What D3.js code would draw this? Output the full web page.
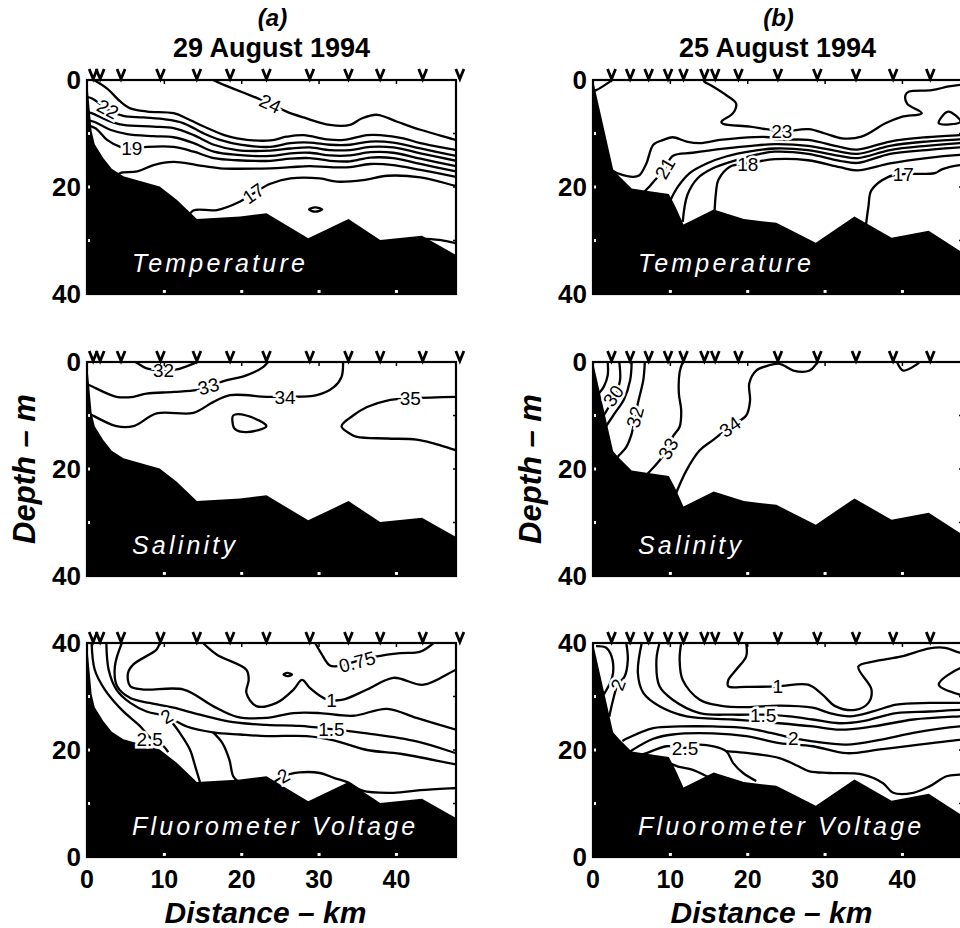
<!DOCTYPE html>
<html>
<head>
<meta charset="utf-8">
<script src="https://cdn.jsdelivr.net/npm/d3@7"></script>
<style>
  body { margin: 0; background: #fff; }
  svg { display: block; font-family: "Liberation Sans", Arial, Helvetica, sans-serif; }
</style>
</head>
<body>
<svg id="chart" width="960" height="928"></svg>
<script>
// ---- data: [distance km, depth m] ----
var bottomA = [[0,0],[0.25,4],[0.6,9.6],[1.0,12],[2.1,14.6],[3.2,16.6],[4.7,18.0],[9.4,19.9],[11.6,22.4],[14.2,26.0],[19.8,25.5],[23.2,24.9],[28.6,29.6],[33.8,26.0],[37.9,29.9],[43.3,29.1],[47.7,32.7],[49,33.6]];
var bottomB = [[0,0],[2.6,16.7],[3.4,18.0],[5.0,20.3],[6.9,20.7],[9.8,21.3],[10.6,23.5],[11.7,27.0],[15.6,24.2],[19.5,26.0],[23.7,26.7],[28.8,30.4],[33.8,25.5],[38.6,29.5],[43.4,28.2],[47.4,31.9],[49,33]];

var stationsA = [0.8, 1.7, 4.4, 9.5, 14.2, 18.5, 23.2, 28.8, 33.8, 37.9, 43.4, 48.2];
var stationsB = [2.4, 4.8, 7.2, 9.7, 11.7, 14.4, 15.8, 18.8, 23.9, 29.0, 34.0, 38.8, 43.6, 48.5];

// temperature, 29 August
var tempA = [
  {v:24, pts:[[16.3,0],[17.5,0.8],[18.9,1.6],[21.5,3.1],[23.7,4.4],[25.8,5.9],[28,7.0],[31.4,8.4],[34,8.4],[35.5,7.2],[37.5,6.5],[40.1,7.8],[43.1,9.3],[47.7,11.2],[49,11.8]]},
  {v:23, pts:[[0.9,0],[2.6,1.6],[4.3,4.0],[5.6,5.3],[7.8,5.9],[11.2,6.2],[12.9,7.2],[15.1,8.7],[17.2,10.0],[19.4,10.9],[23.7,11.3],[25.8,10.6],[28,10.3],[31,11.1],[33.2,11.2],[36.2,10.3],[37.9,10.3],[40.9,10.9],[43.1,11.8],[47.7,13.1],[49,13.5]]},
  {v:22, pts:[[0,3.2],[0.6,3.4],[2.8,5.6],[4.7,6.7],[7.3,7.0],[10.3,7.4],[12.5,8.1],[15.1,10.0],[17.2,11.2],[19.8,12.1],[23.7,12.5],[26.3,11.8],[28.8,11.7],[31.4,12.1],[34,12.1],[36.6,11.5],[39.6,11.7],[43.1,12.8],[47.7,14.2],[49,14.6]]},
  {v:21, pts:[[0,6],[0.6,6.2],[2.6,7.5],[4.7,8.4],[8.6,8.7],[11.2,9.0],[13.8,10.3],[16.4,12.1],[19.4,13.1],[23.7,13.2],[26.3,12.8],[28.8,12.6],[31.4,13.1],[34,13.1],[36.6,12.5],[39.6,12.6],[43.1,13.7],[47.7,15.1],[49,15.5]]},
  {v:20, pts:[[0,7.5],[0.9,7.8],[3.0,9.3],[5.2,10.1],[8.6,10.5],[11.2,10.7],[13.8,11.8],[16.4,13.4],[19.4,14.0],[23.7,14.2],[26.3,13.7],[28.8,13.6],[31.4,14.1],[34,14.1],[36.6,13.5],[39.6,13.6],[43.1,14.7],[47.7,16.1],[49,16.5]]},
  {v:19, pts:[[0,8.5],[1.1,9.0],[2.6,11.2],[4.3,12.5],[5.8,12.8],[7.8,12.5],[11.2,12.5],[13.8,13.4],[16.4,14.6],[19.4,15.0],[23.7,15.1],[26.3,14.7],[28.8,14.6],[31.4,15.1],[34,15.2],[36.6,14.5],[39.6,14.6],[43.1,15.7],[47.7,17.1],[49,17.5]]},
  {v:18, pts:[[3.5,18.2],[4.3,17.4],[6.5,17.1],[8.6,15.9],[11.2,15.3],[14.2,15.9],[17.2,16.5],[23.7,16.5],[26.3,16.3],[28.8,16.1],[31.4,16.3],[34,16.3],[36.6,15.7],[39.6,15.9],[43.1,16.8],[47.7,18.1],[49,18.5]]},
  {v:17, pts:[[13.0,25.8],[13.75,24.4],[16.8,24.3],[19.8,22.7],[21.5,21.2],[23.7,19.4],[26.3,18.4],[30.1,18.4],[32.3,19.0],[35.7,18.7],[38.8,17.9],[43.1,18.2],[47.7,19.8],[49,20.2]]},
  {v:17, closed:true, pts:[[28.7,24.2],[29.5,23.8],[30.4,24.2],[29.5,24.6]]},
  {v:16, pts:[[43.0,29.6],[45.5,29.9],[47.7,30.5],[49,30.8]]}
];
var labelsTempA = [["24",23.7,4.4,25],["22",2.7,5.4,28],["19",5.8,12.8,0],["17",21.5,21.2,-35]];

// salinity, 29 August
var salA = [
  {v:32, pts:[[6.3,0],[6.6,0.3],[7.7,1.2],[9.9,1.6],[11.6,1.4],[13.75,0.3],[14.2,0]]},
  {v:33, pts:[[0,4.2],[0.4,4.4],[3.8,6.5],[6.0,6.5],[7.7,5.9],[11.2,5.6],[14.2,5.2],[15.7,4.5],[18.1,3.4],[20.6,2.5],[22.8,0.9],[23.4,0]]},
  {v:34, pts:[[0,9.5],[0.2,9.6],[3.8,12.0],[6.0,12.0],[9.0,9.6],[13.75,9.5],[16.3,7.5],[18.5,6.2],[23.2,6.5],[25.6,6.5],[29.7,6.2],[31.9,4.7],[32.9,2.8],[33.1,0]]},
  {v:34, closed:true, pts:[[18.9,10.0],[20.6,10.0],[23.2,12.0],[20.6,13.1],[19.1,12.5],[18.8,11.1]]},
  {v:35, pts:[[49,6.5],[47.7,6.5],[41.8,6.8],[38.8,7.2],[36.2,8.4],[34.4,10.0],[32.9,12.0],[34.0,13.4],[34.9,14.0],[38.8,14.3],[42.6,14.5],[44.8,15.2],[47.7,16.5],[49,17]]}
];
var labelsSalA = [["32",9.9,1.6,0],["33",15.7,4.5,-15],["34",25.6,6.5,0],["35",41.8,6.8,0]];

// fluorometer voltage, 29 August
var fluA = [
  {v:0.75, pts:[[29.5,0],[30.3,2.0],[31.4,4.2],[32.5,4.3],[34.9,3.4],[37.5,2.5],[40.5,1.9],[43.1,1.6],[44.8,0]]},
  {v:1, pts:[[15.0,0],[16.8,2.2],[20.6,5.0],[20.9,6.9],[20.6,9.3],[21.9,11.8],[24.5,11.2],[26.7,8.7],[27.8,6.9],[28.8,8.4],[30.6,10.3],[31.6,10.7],[33.1,10.6],[36.2,8.7],[39.6,6.5],[43.5,7.8],[47.7,5.0],[49,4.4]]},
  {v:1, closed:true, pts:[[25.4,5.9],[25.9,5.6],[26.5,5.9],[25.9,6.2]]},
  {v:1.25, pts:[[9.4,0],[9.0,1.2],[6.0,4.0],[5.3,5.6],[5.6,8.1],[7.3,8.7],[12.5,8.7],[16.3,11.8],[19.4,13.8],[23.2,14.0],[26.7,13.1],[30.1,13.1],[34.4,13.6],[38.8,12.3],[42.6,14.0],[47.7,16.2],[49,16.8]]},
  {v:1.5, pts:[[4.5,0],[3.6,4.4],[3.9,8.1],[5.6,10.3],[8.1,11.2],[11.2,12.1],[14.6,13.4],[18.9,14.8],[23.2,15.3],[27.5,15.5],[31.6,16.1],[36.2,16.9],[42.6,18.4],[47.7,20.6],[49,21.2]]},
  {v:2, pts:[[2.5,0],[2.8,5.0],[3.8,8.7],[5.6,11.2],[7.7,12.8],[10.3,13.7],[12.9,15.6],[16.3,16.7],[19.8,17.1],[23.2,17.4],[28.4,17.4],[31.9,18.2],[36.2,20.0],[40.5,20.7],[47.7,22.7],[49,23]]},
  {v:2, pts:[[10.7,14.3],[12.0,16.8],[13.3,19.9],[14.0,23.1],[14.6,26]]},
  {v:2, pts:[[16.3,16.7],[17.5,18.7],[18.4,21.8],[18.9,24.9],[19.6,26]]},
  {v:2.5, pts:[[0.6,0],[1.0,5.0],[2.3,8.7],[4.5,12.5],[6.9,15.6],[8.1,17.6],[9.9,19.3],[10.5,20.4]]},
  {v:2, pts:[[24.0,26.2],[25.4,24.9],[27.5,24.2],[30.1,24.3],[31.9,25.2],[33.8,26.1],[35.6,27.6],[39.6,28.0],[43.1,27.5],[47.7,27.1],[49,27]]}
];
var labelsFluA = [["0.75",34.9,3.5,-15],["1",31.6,10.7,0],["1.5",31.6,16.1,0],["2",10.3,13.7,-30],["2.5",8.1,17.9,0],["2",25.4,24.8,-30]];

// temperature, 25 August
var tempB = [
  {v:24, pts:[[0,2.0],[0.4,1.9],[2.2,0.3],[2.5,0]]},
  {v:23, pts:[[14.3,0],[14.4,0.3],[15.5,1.2],[17.2,2.8],[18.5,4.4],[18.1,6.2],[16.6,7.8],[16.8,8.2],[20.3,8.7],[22.4,9.2],[24.4,9.6],[27.9,9.2],[30,10.0],[32.2,10.9],[34.7,10.6],[37.8,8.1],[39.9,6.9],[42.5,6.2],[40.6,4.4],[40.4,2.8],[40.8,2.2],[43.8,1.9],[46,1.2],[47.5,0.9],[49,0.8]]},
  {v:23, closed:true, pts:[[44.7,8.1],[45.9,5.9],[47.5,7.8]]},
  {v:22, pts:[[2.6,17.0],[3.5,17.6],[5.2,18.1],[6.0,17.8],[6.9,15.6],[7.8,12.1],[9.1,11.2],[10.3,10.7],[12.1,11.5],[13.8,11.8],[16.4,11.2],[18.5,10.9],[22.8,10.7],[23.5,11.1],[27.8,11.2],[31.9,12.5],[34.2,13.0],[38.4,11.5],[43.1,10.7],[47.4,10.3],[49,10.2]]},
  {v:21, pts:[[6.2,21.5],[7.3,19.9],[8.2,18.4],[9.3,16.5],[10.3,14.2],[12.9,13.6],[17.2,12.8],[20.5,12.3],[23.5,12.0],[27.8,12.3],[31.9,13.4],[34.2,13.8],[38.4,12.3],[43.1,11.5],[47.4,11.1],[49,11]]},
  {v:20, pts:[[10.0,22.5],[11.0,19.9],[12.5,17.4],[14.7,15.6],[17.2,14.3],[20.5,13.3],[23.5,12.8],[27.8,13.1],[31.9,14.2],[34.2,14.6],[38.4,13.1],[43.1,12.3],[47.4,11.8],[49,11.7]]},
  {v:19, pts:[[11.6,26.5],[12.2,21.5],[13.5,18.4],[15.5,16.5],[18.0,15.2],[21,14.0],[23.5,13.4],[27.8,13.8],[31.9,15.1],[34.2,15.5],[38.4,13.8],[43.1,13.1],[47.4,12.6],[49,12.5]]},
  {v:18, pts:[[15.7,25],[15.9,21.0],[16.2,18.7],[17.7,16.2],[20.0,15.6],[23.5,14.8],[27.8,15.0],[31.9,16.3],[34.2,16.9],[38.4,15.6],[43.1,14.6],[47.4,14.0],[49,13.9]]},
  {v:17, pts:[[35.3,27],[35.6,23.7],[36.0,20.6],[38.2,18.1],[40.1,17.6],[44.2,17.4],[45.1,16.7],[47.5,15.9],[49,15.8]]}
];
var labelsTempB = [["23",24.4,9.6,0],["21",9.3,16.5,-60],["18",20.0,15.8,0],["17",40.1,17.6,0]];

// salinity, 25 August
var salB = [
  {v:29, pts:[[1.9,0],[1.9,2.5],[1.4,4.6],[0.8,5.8]]},
  {v:30, pts:[[3.4,0],[3.5,3.4],[3.0,5.9],[2.0,8.5],[1.3,10.2]]},
  {v:31, pts:[[5.0,0],[4.8,3.4],[4.0,7.0],[2.8,9.6],[1.7,12.0]]},
  {v:32, pts:[[6.7,0],[6.5,3.4],[5.9,7.1],[5.4,10.3],[5.0,13.4],[4.3,15.9],[3.4,17.4],[2.9,18.2]]},
  {v:33, pts:[[11.6,0],[11.2,1.9],[11.1,5.9],[11.4,9.0],[11.2,12.1],[10.3,14.0],[9.7,16.2],[8.6,18.4],[7.3,20.5],[6.8,21.2]]},
  {v:34, pts:[[10.6,25],[12.1,20.2],[13.8,16.5],[15.5,14.6],[17.7,12.1],[19.8,10.0],[20.3,7.2],[20.2,4.0],[21.1,1.6],[22.8,0.6],[23.9,0.3],[24.6,0.6],[25.9,1.6],[28,1.6],[28.9,0.3],[29.1,0]]},
  {v:35, pts:[[39.3,0],[40.1,1.6],[41.8,0.5],[42.2,0]]}
];
var labelsSalB = [["30",2.6,6.3,-55],["32",5.4,10.3,-75],["33",9.7,16.2,-60],["34",17.7,12.1,-35]];

// fluorometer voltage, 25 August
var fluB = [
  {v:2.25, pts:[[0.4,0.6],[1.7,0.9],[2.4,2.5],[2.6,5.6],[2.2,7.5],[1.4,9.6]]},
  {v:2, pts:[[4.3,0],[4.5,3.1],[4.1,6.2],[3.2,7.8],[2.6,10.6],[2.1,13.8]]},
  {v:1, pts:[[19.8,0],[19.8,2.5],[18.5,5.0],[17.5,6.9],[17.5,8.1],[19.8,8.2],[23.9,8.1],[27.8,7.8],[29.7,9.7],[31.3,11.8],[33.9,12.5],[35.6,11.2],[36.0,8.7],[34.3,4.4],[36.5,3.4],[39.9,2.5],[43.5,1.0],[45.5,0.9],[47.4,1.8],[49,2]]},
  {v:1, pts:[[49,4.5],[47.5,4.7],[44.7,7.8],[47.5,9.7],[49,10]]},
  {v:1.25, pts:[[11.4,0],[11.2,3.1],[11.6,6.9],[13.8,10.6],[16.4,11.7],[19.8,12.0],[24.1,11.7],[28.4,12.1],[30.6,13.1],[33.2,13.7],[36.2,12.8],[39.2,11.5],[43.5,11.2],[47.4,11.2],[49,11.2]]},
  {v:1.5, pts:[[8.6,0],[8.2,3.1],[8.6,8.1],[10.3,10.6],[13.8,13.1],[18,13.4],[22,13.4],[25.4,13.7],[28.4,14.3],[31.9,15.0],[34.9,14.6],[39.2,13.1],[43.5,12.8],[47.4,12.5],[49,12.5]]},
  {v:1.75, pts:[[6.3,0],[5.8,5.6],[6.5,9.3],[8.6,11.8],[12.1,13.7],[18.1,14.3],[24.1,15.0],[28.4,15.6],[31.9,16.2],[36.2,15.6],[41.4,14.3],[47.4,13.7],[49,13.6]]},
  {v:2, pts:[[3.8,18.3],[4.3,17.9],[7.8,15.9],[11.2,15.6],[15.5,15.6],[19.8,15.9],[23,16.8],[25.9,17.8],[28.4,18.4],[32.8,19.0],[37.1,18.1],[41.4,16.8],[47.4,15.6],[49,15.5]]},
  {v:2.25, pts:[[4.8,20.3],[5.2,19.9],[7.8,17.9],[10.3,17.1],[15.5,16.9],[19.8,17.4],[24.1,18.7],[28.4,19.3],[32.8,20.6],[37.1,19.9],[47.4,18.1],[49,18]]},
  {v:2.5, pts:[[6.0,21],[6.9,20.6],[9.5,19.3],[11.9,19.6],[13.8,19.0],[17.2,20.2],[18.1,22.4],[19.4,24.3],[21.1,25.8]]},
  {v:2.25, pts:[[17.2,20.2],[19.5,20.5],[24.1,21.5],[26.5,23.0],[28.0,24.0],[30.6,24.3],[34.9,24.6],[37.5,26.2],[38.8,28.0],[41.4,28.0],[43.5,26.8],[45.7,24.9],[47.4,24.6],[49,24.5]]},
  {v:2.5, pts:[[10.1,22.6],[11.0,23.1],[12.9,23.7],[14.7,24.9],[15.2,25.2]]}
];
var labelsFluB = [["2",3.2,7.8,-70],["1",23.9,8.1,0],["1.5",22,13.4,0],["2",25.9,17.8,0],["2.5",11.9,19.6,0]];

var depthTicks = [0, 10, 20, 30, 40];
var depthLabels = [0, 20, 40];
var kmTicks = [10, 20, 30, 40];
var kmLabels = [0, 10, 20, 30, 40];

// ---- layout ----
var KM_MAX = 47.7;
var colX = [[87, 456], [593, 962]];
var rowY = [[80, 294], [362, 576], [643, 857]];
var colTitles = [["(a)", "29 August 1994"], ["(b)", "25 August 1994"]];

var panels = [
  {col:0, row:0, lines:tempA, labels:labelsTempA, bottom:bottomA, stations:stationsA, name:"Temperature"},
  {col:0, row:1, lines:salA,  labels:labelsSalA,  bottom:bottomA, stations:stationsA, name:"Salinity"},
  {col:0, row:2, lines:fluA,  labels:labelsFluA,  bottom:bottomA, stations:stationsA, name:"Fluorometer Voltage"},
  {col:1, row:0, lines:tempB, labels:labelsTempB, bottom:bottomB, stations:stationsB, name:"Temperature"},
  {col:1, row:1, lines:salB,  labels:labelsSalB,  bottom:bottomB, stations:stationsB, name:"Salinity"},
  {col:1, row:2, lines:fluB,  labels:labelsFluB,  bottom:bottomB, stations:stationsB, name:"Fluorometer Voltage"}
];

var svg = d3.select("#chart");

panels.forEach(function(p, i) {
  var x = d3.scaleLinear().domain([0, KM_MAX]).range(colX[p.col]);
  var y = d3.scaleLinear().domain([0, 40]).range(rowY[p.row]);
  var x0 = colX[p.col][0], x1 = colX[p.col][1], y0 = rowY[p.row][0], y1 = rowY[p.row][1];

  svg.append("clipPath").attr("id", "clip" + i)
    .append("rect").attr("x", x0).attr("y", y0).attr("width", x1 - x0).attr("height", y1 - y0);

  var g = svg.append("g").attr("clip-path", "url(#clip" + i + ")");

  var line = d3.line().x(function(d) { return x(d[0]); }).y(function(d) { return y(d[1]); });

  // contour lines
  g.selectAll(".contour")
      .data(p.lines)
    .enter().append("path")
      .attr("class", "contour")
      .attr("d", function(c) {
        return line.curve(c.closed ? d3.curveCatmullRomClosed : d3.curveCatmullRom.alpha(0.5))(c.pts);
      })
      .attr("fill", "none")
      .attr("stroke", "#000")
      .attr("stroke-width", 2.3)
      .attr("stroke-linejoin", "round");

  // sea floor
  var area = d3.area()
      .x(function(d) { return x(d[0]); })
      .y0(y(40) + 2)
      .y1(function(d) { return y(d[1]); });
  g.append("path")
      .datum([[p.bottom[0][0], 40]].concat(p.bottom))
      .attr("d", area)
      .attr("fill", "#000");

  // contour labels
  g.selectAll(".clabel")
      .data(p.labels)
    .enter().append("text")
      .attr("class", "clabel")
      .attr("transform", function(d) { return "translate(" + x(d[1]) + "," + y(d[2]) + ")rotate(" + d[3] + ")"; })
      .attr("text-anchor", "middle")
      .attr("dy", "0.36em")
      .attr("font-size", 19)
      .attr("stroke", "#fff")
      .attr("stroke-width", 5)
      .attr("paint-order", "stroke")
      .attr("fill", "#000")
      .text(function(d) { return d[0]; });

  // panel name
  g.append("text")
      .attr("x", x0 + 45)
      .attr("y", y1 - 22)
      .attr("fill", "#fff")
      .attr("font-size", 25)
      .attr("font-style", "italic")
      .attr("letter-spacing", 3.2)
      .text(p.name);

  // inward ticks: white on the filled left/bottom, black on top/right
  g.selectAll(".ltick").data(depthTicks.slice(1, -1)).enter().append("line")
      .attr("x1", x0).attr("x2", x0 + 3)
      .attr("y1", function(d) { return y(d); }).attr("y2", function(d) { return y(d); })
      .attr("stroke", "#fff").attr("stroke-width", 3);
  g.selectAll(".rtick").data(depthTicks.slice(1, -1)).enter().append("line")
      .attr("x1", x1 - 3).attr("x2", x1)
      .attr("y1", function(d) { return y(d); }).attr("y2", function(d) { return y(d); })
      .attr("stroke", "#000").attr("stroke-width", 1.5);
  g.selectAll(".btick").data(kmTicks).enter().append("line")
      .attr("x1", function(d) { return x(d); }).attr("x2", function(d) { return x(d); })
      .attr("y1", y1 - 4).attr("y2", y1)
      .attr("stroke", "#fff").attr("stroke-width", 3);
  g.selectAll(".ttick").data(kmTicks).enter().append("line")
      .attr("x1", function(d) { return x(d); }).attr("x2", function(d) { return x(d); })
      .attr("y1", y0).attr("y2", y0 + 4)
      .attr("stroke", "#000").attr("stroke-width", 1.5);

  // frame
  svg.append("rect")
      .attr("x", x0).attr("y", y0).attr("width", x1 - x0).attr("height", y1 - y0)
      .attr("fill", "none").attr("stroke", "#000").attr("stroke-width", 2.2);

  // station markers
  svg.selectAll(".st" + i).data(p.stations).enter().append("path")
      .attr("d", function(d) { var sx = x(d); return "M" + (sx - 4) + "," + (y0 - 11) + "L" + sx + "," + (y0 - 1) + "L" + (sx + 4) + "," + (y0 - 11); })
      .attr("fill", "none").attr("stroke", "#000").attr("stroke-width", 2.8);

  // depth labels (fluorometer panels are labelled upside down in the original)
  svg.selectAll(".dl" + i).data(depthLabels).enter().append("text")
      .attr("x", x0 - 6)
      .attr("y", function(d) { return y(d); })
      .attr("dy", "0.36em")
      .attr("text-anchor", "end")
      .attr("font-size", 26)
      .attr("font-weight", "bold")
      .text(function(d) { return p.row === 2 ? 40 - d : d; });

  if (p.row === 2) {
    svg.selectAll(".kl" + i).data(kmLabels).enter().append("text")
        .attr("x", function(d) { return x(d); })
        .attr("y", y1 + 31)
        .attr("text-anchor", "middle")
        .attr("font-size", 25)
        .attr("font-weight", "bold")
        .text(function(d) { return d; });
    svg.append("text")
        .attr("x", (x0 + x1) / 2 - 6)
        .attr("y", 923)
        .attr("text-anchor", "middle")
        .attr("font-size", 30)
        .attr("font-weight", "bold")
        .attr("font-style", "italic")
        .text("Distance \u2013 km");
  }
  if (p.row === 1) {
    svg.append("text")
        .attr("transform", "translate(" + (x0 - 52) + "," + ((y0 + y1) / 2) + ")rotate(-90)")
        .attr("text-anchor", "middle")
        .attr("font-size", 31)
        .attr("font-weight", "bold")
        .attr("font-style", "italic")
        .text("Depth \u2013 m");
  }
  if (p.row === 0) {
    svg.append("text").attr("x", (x0 + x1) / 2 + 1).attr("y", 26)
        .attr("text-anchor", "middle").attr("font-size", 24)
        .attr("font-weight", "bold").attr("font-style", "italic")
        .text(colTitles[p.col][0]);
    svg.append("text").attr("x", (x0 + x1) / 2).attr("y", 57)
        .attr("text-anchor", "middle").attr("font-size", 27)
        .attr("font-weight", "bold")
        .text(colTitles[p.col][1]);
  }
});
</script>
</body>
</html>
